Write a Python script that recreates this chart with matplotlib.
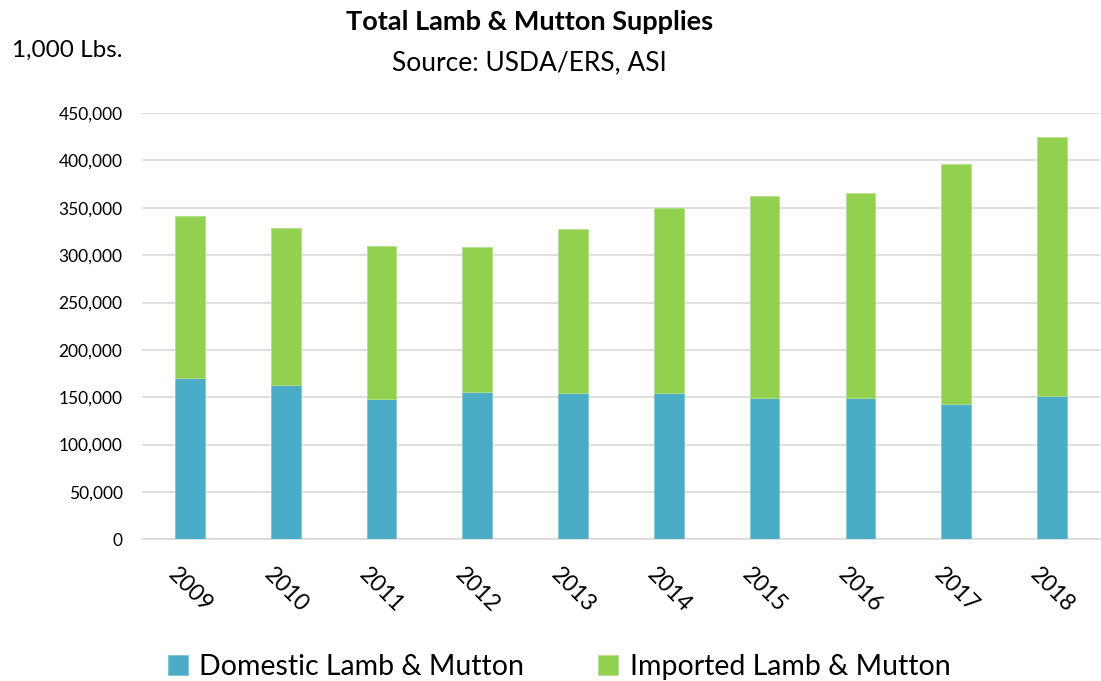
import matplotlib.pyplot as plt
from matplotlib.ticker import FuncFormatter

# values in 1,000 lbs
years = ["2009", "2010", "2011", "2012", "2013", "2014", "2015", "2016", "2017", "2018"]
domestic = [170800, 162800, 148000, 155700, 154300, 154300, 149000, 149000, 143300, 151500]
imported = [170300, 165900, 162000, 152900, 173400, 195900, 213600, 216300, 253100, 273400]

plt.rcParams["font.family"] = ["Lato", "DejaVu Sans"]

fig = plt.figure(figsize=(11.01, 6.81), dpi=100)
ax = fig.add_axes([0.129, 0.208, 0.870, 0.626])

x = range(len(years))
ax.bar(x, domestic, width=0.31, color="#4BACC6", edgecolor="#7CC4D8", linewidth=0.6,
       label="Domestic Lamb & Mutton", zorder=3)
ax.bar(x, imported, width=0.31, bottom=domestic, color="#92D050", edgecolor="#B4E08A",
       linewidth=0.6, label="Imported Lamb & Mutton", zorder=3)

ax.set_xlim(-0.5, len(years) - 0.5)
ax.set_ylim(0, 450000)
ax.set_yticks(range(0, 450001, 50000))
ax.yaxis.set_major_formatter(FuncFormatter(lambda v, p: f"{int(v):,}"))
ax.grid(axis="y", color="#D9D9D9", linewidth=1.2, zorder=0)
for s in ["top", "right", "left"]:
    ax.spines[s].set_visible(False)
ax.spines["bottom"].set_color("#D9D9D9")
ax.spines["bottom"].set_linewidth(1.2)
ax.tick_params(axis="both", length=0, colors="black")
ax.tick_params(axis="y", pad=14, labelsize=12.5)
ax.set_xticks(list(x))
ax.set_xticklabels(years, rotation=-45, ha="center", fontsize=16.5)
ax.tick_params(axis="x", pad=18)

fig.text(0.481, 0.967, "Total Lamb & Mutton Supplies", ha="center", va="center",
         fontsize=19.5, fontweight="bold")
fig.text(0.481, 0.908, "Source: USDA/ERS, ASI", ha="center", va="center", fontsize=19)
fig.text(0.011, 0.926, "1,000 Lbs.", ha="left", va="center", fontsize=17.5)

fig.legend(loc="center", bbox_to_anchor=(0.508, 0.02), ncol=2, frameon=False,
           fontsize=20.5, handlelength=0.7, handleheight=0.7, columnspacing=2.6,
           handletextpad=0.4)

fig.savefig("out.png", dpi=100)
